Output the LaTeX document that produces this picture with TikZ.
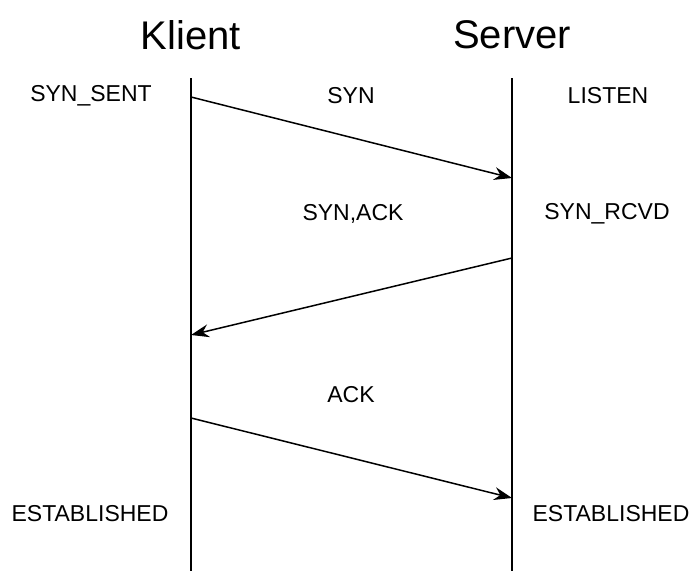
\documentclass[tikz,border=0pt]{standalone}
\usepackage{fontspec}
\setmainfont{Liberation Sans}
\usetikzlibrary{arrows.meta}
\begin{document}
\begin{tikzpicture}[x=1pt,y=-1pt,
  title/.style={font=\fontsize{40}{40}\selectfont},
  lbl/.style={font=\fontsize{23}{23}\selectfont},
  lifeline/.style={line width=1.6pt},
  msg/.style={line width=1.5pt,-{Stealth[length=18pt,width=13pt,inset=6pt]}}]
\useasboundingbox (0,0) rectangle (694,571);
% participants
\node[title] (kl) at (191,35) {Klient};
\node[title] (sv) at (512,35) {Server};
% lifelines
\coordinate (ktop) at (191,78);
\coordinate (kbot) at (191,571);
\coordinate (stop) at (512,78);
\coordinate (sbot) at (512,571);
\draw[lifeline] (ktop) -- (kbot);
\draw[lifeline] (stop) -- (sbot);
% states and message names
\node[lbl] (s1) at (91,96) {SYN\_SENT};
\node[lbl] (m1) at (351,96) {SYN};
\node[lbl] (r1) at (608,96) {LISTEN};
\node[lbl] (m2) at (353,214) {SYN,ACK};
\node[lbl] (r2) at (607,214) {SYN\_RCVD};
\node[lbl] (m3) at (351,395) {ACK};
\node[lbl] (s3) at (90,514) {ESTABLISHED};
\node[lbl] (r3) at (611,514) {ESTABLISHED};
% messages
\coordinate (a1) at (191,97);
\coordinate (b1) at (512,178);
\coordinate (a2) at (512,258);
\coordinate (b2) at (191,335);
\coordinate (a3) at (191,418);
\coordinate (b3) at (512,498);
\draw[msg] (a1) -- (b1);
\draw[msg] (a2) -- (b2);
\draw[msg] (a3) -- (b3);
\end{tikzpicture}
\end{document}
